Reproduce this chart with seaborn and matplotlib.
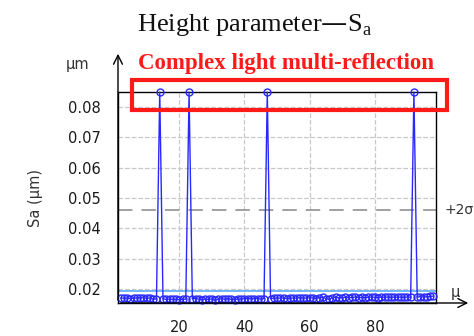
import numpy as np
import pandas as pd
import seaborn as sns
import matplotlib.pyplot as plt
from matplotlib.patches import Rectangle, FancyArrowPatch

# Sa per measurement (um), spikes are multi-reflection outliers
sample = list(range(2, 99))
sa = [0.0170, 0.0169, 0.0170, 0.0168, 0.0169, 0.0170, 0.0171, 0.0170, 0.0169, 0.0170,
      0.0167, 0.0166, 0.0850, 0.0167, 0.0165, 0.0166, 0.0165, 0.0166, 0.0164, 0.0165,
      0.0166, 0.0850, 0.0167, 0.0168, 0.0166, 0.0164, 0.0166, 0.0165, 0.0167, 0.0162,
      0.0166, 0.0167, 0.0166, 0.0168, 0.0165, 0.0164, 0.0167, 0.0166, 0.0168, 0.0167,
      0.0168, 0.0167, 0.0168, 0.0166, 0.0168, 0.0850, 0.0168, 0.0169, 0.0170, 0.0169,
      0.0170, 0.0168, 0.0169, 0.0170, 0.0169, 0.0171, 0.0170, 0.0169, 0.0171, 0.0170,
      0.0168, 0.0171, 0.0172, 0.0168, 0.0165, 0.0171, 0.0172, 0.0170, 0.0171, 0.0172,
      0.0171, 0.0172, 0.0173, 0.0171, 0.0172, 0.0171, 0.0172, 0.0173, 0.0172, 0.0171,
      0.0173, 0.0172, 0.0173, 0.0172, 0.0173, 0.0172, 0.0173, 0.0172, 0.0173, 0.0172,
      0.0850, 0.0173, 0.0174, 0.0173, 0.0174, 0.0175, 0.0176]
limit_line = 0.0194
two_sigma = 0.0462
y_ticks = [0.02, 0.03, 0.04, 0.05, 0.06, 0.07, 0.08]
x_ticks = [20, 40, 60, 80]

df = pd.DataFrame({'sample': sample, 'sa': sa})

sns.set_style('white')
plt.rcParams['font.family'] = ['DejaVu Sans']

fig = plt.figure(figsize=(4.74, 3.36), dpi=100)
ax = fig.add_axes([0.249, 0.098, 0.671, 0.628])

ax.axhline(limit_line, color='#55aaff', lw=1.2, zorder=1)
ax.axhline(two_sigma, color='#999999', lw=1.3, ls=(0, (8, 5)), zorder=1)
sns.lineplot(data=df, x='sample', y='sa', ax=ax, color='#2828ff', lw=1,
             marker='o', markersize=5, markerfacecolor='none',
             markeredgecolor='#2828ff', markeredgewidth=1, clip_on=False, zorder=3)

ax.set_xlim(1.2, 98.8)
ax.set_ylim(0.0153, 0.0850)
ax.set_xticks(x_ticks)
ax.set_yticks(y_ticks)
ax.set_yticklabels([f'{v:.2f}' for v in y_ticks])
ax.set_xticks(np.arange(2, 99, 2), minor=True)
ax.set_yticks(np.arange(0.02, 0.085, 0.005), minor=True)
ax.grid(True, which='major', color='#c8c8c8', ls='--', lw=0.9)
ax.tick_params(axis='both', which='major', length=9, width=1, labelsize=10.5,
               color='#222222', labelcolor='#1a1a1a')
ax.tick_params(axis='both', which='minor', length=6, width=1, color='#222222')
ax.set_xlabel('')
ax.set_ylabel('Sa (μm)', fontsize=10.5, labelpad=18, color='#333333')

for side in ['top', 'right', 'left', 'bottom']:
    ax.spines[side].set_color('black')
    ax.spines[side].set_linewidth(1)

# axis arrows, in figure pixels
W, H = 474, 336
fig.add_artist(FancyArrowPatch((118 / W, 1 - 303 / H), (118 / W, 1 - 51 / H),
                               transform=fig.transFigure, arrowstyle='->',
                               mutation_scale=16, lw=1, color='black'))
fig.add_artist(FancyArrowPatch((118 / W, 1 - 303 / H), (471 / W, 1 - 303 / H),
                               transform=fig.transFigure, arrowstyle='->',
                               mutation_scale=16, lw=1, color='black'))

ax.text(-0.09, 1.13, 'μm', transform=ax.transAxes, ha='right', va='center', fontsize=10.5, color='#333333')
ax.text(1.025, two_sigma, '+2σ', transform=ax.get_yaxis_transform(), ha='left', va='center',
        fontsize=10, color='#333333')
ax.text(1.045, 0.05, 'μ', transform=ax.transAxes, ha='left', va='center', fontsize=10.5, color='#333333')

fig.text(0.537, 0.925, 'Height parameter—S$_\\mathregular{a}$', ha='center', va='center',
         fontsize=19, family='Liberation Serif', color='#111111')
fig.text(0.604, 0.812, 'Complex light multi-reflection', ha='center', va='center',
         fontsize=16.5, fontweight='bold', family='Liberation Serif', color='#ff1a1a')
fig.add_artist(Rectangle((132 / W, 1 - 110 / H), 315 / W, 30 / H,
                         transform=fig.transFigure, fill=False, ec='#ff1a1a', lw=3))

fig.savefig('out.png', dpi=100)
